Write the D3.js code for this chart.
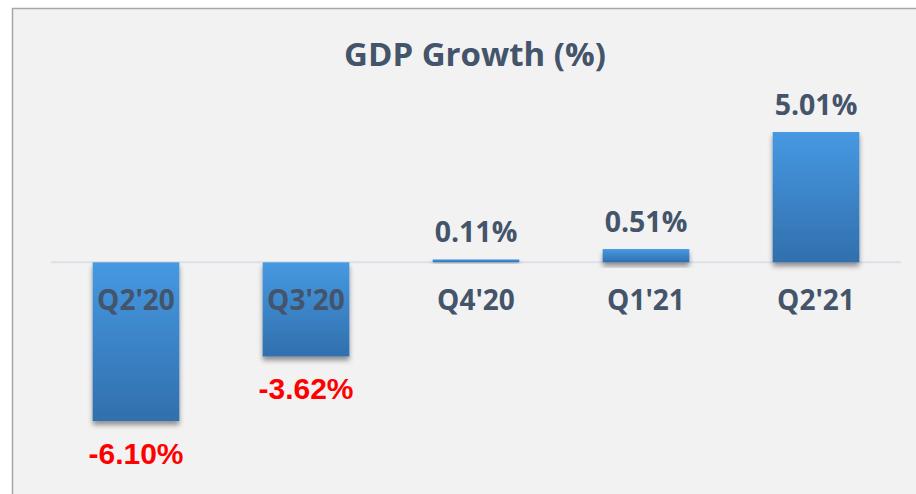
<!DOCTYPE html>
<html>
<head>
<meta charset="utf-8">
<script src="https://cdn.jsdelivr.net/npm/d3@7"></script>
<style>
  body { margin: 0; background: #ffffff; }
  svg { display: block; }
</style>
</head>
<body>
<svg id="chart" width="916" height="494"></svg>
<script>
// ***************** DATA ********************
var quarters = ["Q2'20", "Q3'20", "Q4'20", "Q1'21", "Q2'21"];
var growth = [-6.10, -3.62, 0.11, 0.51, 5.01];
var valueLabels = ["-6.10%", "-3.62%", "0.11%", "0.51%", "5.01%"];
var title = "GDP Growth (%)";

var width = 916, height = 494;
var margin = {top: 132, bottom: 73, left: 51, right: 15};
var svg = d3.select("#chart");

var data = quarters.map(function(q, i) {
	return {name: q, value: growth[i], label: valueLabels[i]};
});

// ***************** SCALES ********************
var x = d3.scaleBand()
	.domain(quarters)
	.range([margin.left, width - margin.right])
	.paddingInner(0.49)
	.paddingOuter(0.245);

var y = d3.scaleLinear()
	.domain([d3.min(growth), d3.max(growth)])
	.range([height - margin.bottom, margin.top]);

// ***************** DEFS ********************
var defs = svg.append("defs");
var grad = defs.append("linearGradient")
	.attr("id", "barGrad")
	.attr("x1", 0).attr("y1", 0).attr("x2", 0).attr("y2", 1);
grad.append("stop").attr("offset", "0%").attr("stop-color", "#4699e2");
grad.append("stop").attr("offset", "100%").attr("stop-color", "#316fad");

var shadow = defs.append("filter")
	.attr("id", "shadow")
	.attr("x", "-20%").attr("y", "-20%")
	.attr("width", "140%").attr("height", "160%");
shadow.append("feDropShadow")
	.attr("dx", 0).attr("dy", 4)
	.attr("stdDeviation", 2.5)
	.attr("flood-color", "#000")
	.attr("flood-opacity", 0.4);

// ***************** PANEL ********************
svg.append("rect")
	.attr("x", 12.5).attr("y", 8.5)
	.attr("width", width + 20).attr("height", height + 20)
	.attr("fill", "#f2f2f2")
	.attr("stroke", "#a6a6a6")
	.attr("stroke-width", 1.5);

svg.append("text")
	.attr("x", 475).attr("y", 66)
	.attr("text-anchor", "middle")
	.attr("font-family", "'Open Sans', sans-serif")
	.attr("font-weight", "bold")
	.attr("font-size", 33)
	.attr("fill", "#44546a")
	.text(title);

// zero line
svg.append("line")
	.attr("x1", margin.left).attr("x2", width - margin.right)
	.attr("y1", y(0)).attr("y2", y(0))
	.attr("stroke", "#dbe1e9")
	.attr("stroke-width", 2);

// ***************** BARS ********************
svg.selectAll("rect.bar")
	.data(data)
	.enter()
	.append("rect")
	.classed("bar", true)
	.attr("x", function(d) { return x(d.name); })
	.attr("y", function(d) { return Math.min(y(d.value), y(0)); })
	.attr("width", x.bandwidth())
	.attr("height", function(d) { return Math.max(Math.abs(y(d.value) - y(0)), 2.5); })
	.attr("fill", "url(#barGrad)")
	.attr("filter", "url(#shadow)");

// ***************** LABELS ********************
svg.selectAll("text.cat")
	.data(data)
	.enter()
	.append("text")
	.classed("cat", true)
	.attr("x", function(d) { return x(d.name) + x.bandwidth() / 2; })
	.attr("y", y(0) + 48)
	.attr("text-anchor", "middle")
	.attr("font-family", "'Open Sans', sans-serif")
	.attr("font-weight", "bold")
	.attr("font-size", 28)
	.attr("fill", "#44546a")
	.text(function(d) { return d.name; });

svg.selectAll("text.val")
	.data(data)
	.enter()
	.append("text")
	.classed("val", true)
	.attr("x", function(d) { return x(d.name) + x.bandwidth() / 2; })
	.attr("y", function(d) { return d.value < 0 ? y(d.value) + 43 : y(d.value) - 17; })
	.attr("text-anchor", "middle")
	.attr("font-family", function(d) { return d.value < 0 ? "'Liberation Sans', Arial, sans-serif" : "'Open Sans', sans-serif"; })
	.attr("font-weight", "bold")
	.attr("font-size", function(d) { return d.value < 0 ? 30 : 28.5; })
	.attr("fill", function(d) { return d.value < 0 ? "#ff0000" : "#44546a"; })
	.text(function(d) { return d.label; });
</script>
</body>
</html>
